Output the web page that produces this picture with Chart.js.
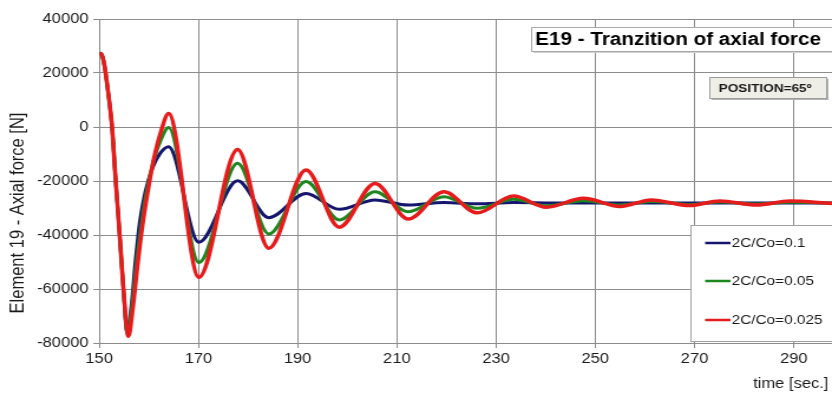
<!DOCTYPE html>
<html lang="en">
<head>
<meta charset="UTF-8">
<title>E19 - Tranzition of axial force</title>
<script src="https://cdn.jsdelivr.net/npm/chart.js"></script>
<style>
    html, body {
        margin: 0;
        padding: 0;
        background: #ffffff;
        overflow: hidden;
    }
    /* the original picture is a bit wider than tall in its text, so stretch horizontally */
    #chart {
        display: block;
        transform: scale(1.1801, 1);
        transform-origin: 0 0;
    }
</style>
</head>
<body>

<canvas id="chart" width="705" height="394"></canvas>

<script>
// time ticks on the x axis
var xTicks = [150, 170, 190, 210, 230, 250, 270, 290];

// 2C/Co = 0.1
var timeA = [150.1, 150.6, 151.1, 151.7, 152.6, 153.3, 154.1, 154.9, 155.6, 156.5, 157.3, 158.2, 159.3, 160.8, 162.4, 164.0,
    170.1, 177.9, 184.2, 191.7, 198.4, 205.6, 212.3, 219.5, 226.2, 233.5, 242.0, 297.7];
var forceA = [27500, 26500, 22500, 14500, 0, -19000, -39000, -60000, -76000, -66000, -50000, -35000, -24000, -15000, -9500, -7300,
    -42700, -19900, -33600, -24600, -30500, -27000, -28900, -28000, -28400, -28000, -28150, -28150];

// 2C/Co = 0.05
var timeB = [150.1, 150.6, 151.1, 151.7, 152.6, 153.3, 154.1, 154.9, 155.7, 156.6, 157.5, 158.5, 159.6, 160.9, 162.4, 164.0,
    170.1, 177.9, 184.2, 191.7, 198.4, 205.6, 212.3, 219.5, 226.2, 233.5, 240.2, 247.6, 255.0, 261.3, 269.0, 275.1, 282.5, 289.2, 297.7];
var forceB = [27500, 26500, 22500, 14500, 0, -19000, -39000, -60000, -76800, -66500, -51000, -36000, -23500, -13000, -5000, -200,
    -50200, -13400, -39600, -20200, -34400, -24000, -31400, -25800, -30100, -26800, -29200, -27300, -28900, -27600, -28700, -27800, -28500, -27900, -28200];

// 2C/Co = 0.025
var timeC = [150.1, 150.6, 151.1, 151.7, 152.6, 153.3, 154.1, 154.9, 155.9, 156.8, 157.7, 158.7, 159.8, 161.0, 162.4, 164.0,
    170.1, 177.9, 184.2, 191.7, 198.4, 205.6, 212.3, 219.5, 226.2, 233.5, 240.2, 247.6, 255.0, 261.3, 269.0, 275.1, 282.5, 289.2, 297.7];
var forceC = [27500, 26500, 22500, 14500, 0, -19000, -39000, -60000, -77500, -67000, -52000, -37000, -24000, -12000, -2000, 5000,
    -55700, -8300, -44900, -15900, -37100, -20900, -34100, -24000, -31800, -25600, -29700, -26400, -29400, -27000, -29100, -27400, -28900, -27400, -28300];

var seriesLabels = ['2C/Co=0.1', '2C/Co=0.05', '2C/Co=0.025'];
var seriesColors = ['#16166e', '#1e861e', '#e61c1c'];

var chartTitle = 'E19 - Tranzition of axial force';
var positionNote = 'POSITION=65º';
var yTitle = 'Element 19 - Axial force [N]';
var xTitle = 'time [sec.]';

function toPoints(t, v) {
    return t.map(function (x, i) { return { x: x, y: v[i] }; });
}

var FONT = "'Liberation Sans', Arial, sans-serif";

// boxes, legend and axis titles drawn on top of the plot
var decor = {
    id: 'decor',
    afterDraw: function (chart) {
        var ctx = chart.ctx;
        ctx.save();

        // title box
        ctx.fillStyle = '#d0d0d0';
        ctx.fillRect(452, 29, 260, 24);
        ctx.fillStyle = '#ffffff';
        ctx.fillRect(450, 27, 260, 24);
        ctx.strokeStyle = '#a8a8a8';
        ctx.lineWidth = 1;
        ctx.strokeRect(450.5, 27.5, 260, 24);
        ctx.fillStyle = '#000000';
        ctx.font = 'bold 17.5px ' + FONT;
        ctx.textAlign = 'left';
        ctx.textBaseline = 'middle';
        ctx.fillText(chartTitle, 453.5, 40);

        // position note
        ctx.fillStyle = '#b4b4b4';
        ctx.fillRect(603, 79, 99, 21);
        ctx.fillStyle = '#efeee6';
        ctx.fillRect(601, 77, 99, 21);
        ctx.strokeStyle = '#9c9c9c';
        ctx.strokeRect(601.5, 77.5, 99, 21);
        ctx.fillStyle = '#1a1a1a';
        ctx.font = 'bold 11.5px ' + FONT;
        ctx.fillText(positionNote, 609, 88.5);

        // legend
        ctx.fillStyle = '#ffffff';
        ctx.fillRect(585, 225, 130, 116);
        ctx.strokeStyle = '#a0a0a0';
        ctx.strokeRect(585.5, 225.5, 130, 116);
        var rows = [243, 281, 320];
        ctx.font = '13px ' + FONT;
        for (var i = 0; i < seriesLabels.length; i++) {
            ctx.strokeStyle = seriesColors[i];
            ctx.lineWidth = 2.5;
            ctx.beginPath();
            ctx.moveTo(597.5, rows[i]);
            ctx.lineTo(619, rows[i]);
            ctx.stroke();
            ctx.fillStyle = '#1a1a1a';
            ctx.fillText(seriesLabels[i], 620, rows[i] + 0.5);
        }

        // y axis title
        ctx.save();
        ctx.translate(15.5, 213);
        ctx.rotate(-Math.PI / 2);
        ctx.textAlign = 'center';
        ctx.font = '16.5px ' + FONT;
        ctx.fillStyle = '#1a1a1a';
        ctx.fillText(yTitle, 0, 0);
        ctx.restore();

        // x axis title
        ctx.textAlign = 'right';
        ctx.font = '14px ' + FONT;
        ctx.fillStyle = '#1a1a1a';
        ctx.fillText(xTitle, 702, 384.5);

        ctx.restore();
    }
};

var ctx = document.getElementById('chart').getContext('2d');
var chart = new Chart(ctx, {
    type: 'line',
    data: {
        datasets: [{
            label: seriesLabels[0],
            data: toPoints(timeA, forceA),
            borderColor: seriesColors[0],
            borderWidth: 3,
            order: 3
        }, {
            label: seriesLabels[1],
            data: toPoints(timeB, forceB),
            borderColor: seriesColors[1],
            borderWidth: 3,
            order: 2
        }, {
            label: seriesLabels[2],
            data: toPoints(timeC, forceC),
            borderColor: seriesColors[2],
            borderWidth: 3.5,
            order: 1
        }]
    },
    options: {
        responsive: false,
        devicePixelRatio: 1,
        animation: false,
        layout: { padding: { top: 19, right: 0, bottom: 0, left: 0 } },
        elements: {
            point: { radius: 0 },
            line: { cubicInterpolationMode: 'monotone', fill: false }
        },
        plugins: {
            legend: { display: false },
            tooltip: { enabled: false }
        },
        scales: {
            x: {
                type: 'linear',
                min: 150,
                max: 297.7,
                afterBuildTicks: function (scale) {
                    scale.ticks = xTicks.map(function (v) { return { value: v }; });
                },
                afterFit: function (scale) { scale.height = 51; },
                grid: { color: '#8c8c8c', tickLength: 5 },
                border: { color: '#8c8c8c' },
                ticks: {
                    color: '#1a1a1a',
                    padding: 3,
                    maxRotation: 0,
                    font: { family: FONT, size: 14 },
                    callback: function (v) { return String(v); }
                }
            },
            y: {
                min: -80000,
                max: 40000,
                afterFit: function (scale) { scale.width = 84; },
                grid: { color: '#8c8c8c', tickLength: 5 },
                border: { color: '#8c8c8c' },
                ticks: {
                    stepSize: 20000,
                    color: '#1a1a1a',
                    padding: 4,
                    font: { family: FONT, size: 14 },
                    callback: function (v) { return String(v); }
                }
            }
        }
    },
    plugins: [decor]
});
</script>

</body>
</html>
